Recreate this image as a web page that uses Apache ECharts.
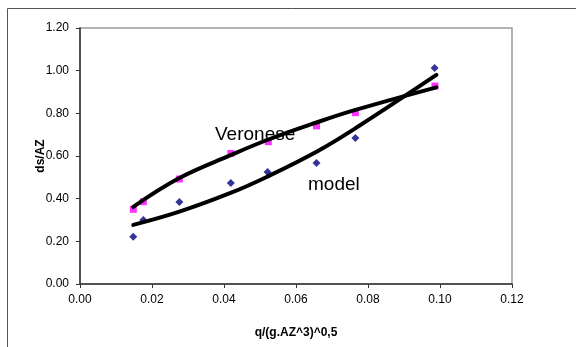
<!DOCTYPE html>
<html><head><meta charset="utf-8">
<script src="https://cdn.jsdelivr.net/npm/echarts@6/dist/echarts.min.js"></script>
<style>html,body{margin:0;padding:0;background:#fff}#c{width:576px;height:347px}</style>
</head><body><div id="c"></div>
<script>
const xTicks = [0, 0.02, 0.04, 0.06, 0.08, 0.10, 0.12];
const yTicks = [0, 0.2, 0.4, 0.6, 0.8, 1.0, 1.2];
const xVeronese = [0.0148, 0.0176, 0.0276, 0.0419, 0.0523, 0.0657, 0.0765, 0.0986];
const yVeronese = [0.350, 0.386, 0.492, 0.612, 0.667, 0.741, 0.803, 0.928];
const xModel = [0.0148, 0.0176, 0.0276, 0.0419, 0.0521, 0.0657, 0.0765, 0.0985];
const yModel = [0.222, 0.300, 0.384, 0.473, 0.525, 0.567, 0.684, 1.012];
const xTrendV = [0.0148, 0.0276, 0.042, 0.052, 0.0657, 0.0765, 0.099];
const yTrendV = [0.362, 0.497, 0.605, 0.675, 0.757, 0.816, 0.922];
const xTrendM = [0.0148, 0.0276, 0.042, 0.052, 0.0657, 0.0765, 0.099];
const yTrendM = [0.277, 0.339, 0.428, 0.503, 0.620, 0.730, 0.980];

const zip = (a, b) => a.map((v, i) => [v, b[i]]);
const chart = echarts.init(document.getElementById('c'));
const font = 'Liberation Sans, Arial, sans-serif';
chart.setOption({
  animation: false,
  grid: {left: 80, top: 28, width: 432, height: 256, show: true, borderColor: '#9a9a9a', borderWidth: 1.5, backgroundColor: 'transparent'},
  xAxis: {
    type: 'value', min: 0, max: 0.12, interval: 0.02,
    name: 'q/(g.AZ^3)^0,5', nameLocation: 'middle', nameGap: 43,
    nameTextStyle: {fontFamily: font, fontWeight: 'bold', fontSize: 12, color: '#000'},
    axisLine: {lineStyle: {color: '#333', width: 1.5}},
    axisTick: {show: true, inside: false, length: 4, lineStyle: {color: '#333'}},
    splitLine: {show: false},
    axisLabel: {fontFamily: font, fontSize: 12, color: '#000', margin: 10, formatter: v => v.toFixed(2)}
  },
  yAxis: {
    type: 'value', min: 0, max: 1.2, interval: 0.2,
    name: 'ds/AZ', nameLocation: 'middle', nameGap: 33, nameRotate: 90, nameMoveOverlap: false,
    nameTextStyle: {fontFamily: font, fontWeight: 'bold', fontSize: 12, color: '#000'},
    axisLine: {show: true, lineStyle: {color: '#333', width: 1.5}},
    axisTick: {show: true, inside: false, length: 4, lineStyle: {color: '#333'}},
    splitLine: {show: false},
    axisLabel: {fontFamily: font, fontSize: 12, color: '#000', margin: 11, formatter: v => v.toFixed(2)}
  },
  graphic: [
    {type: 'rect', shape: {x: 7.5, y: 8.5, width: 700, height: 500}, style: {fill: 'none', stroke: '#555', lineWidth: 1}, z: -10},
    {type: 'text', left: 215, top: 125, style: {text: 'Veronese', font: '19px ' + font, fill: '#000'}, z: 1},
    {type: 'text', left: 308, top: 175, style: {text: 'model', font: '19px ' + font, fill: '#000'}, z: 1}
  ],
  series: [
    {type: 'scatter', data: zip(xVeronese, yVeronese), symbol: 'rect', symbolSize: 7, itemStyle: {color: '#FF00FF'}, z: 2},
    {type: 'scatter', data: zip(xModel, yModel), symbol: 'diamond', symbolSize: 8, itemStyle: {color: '#000080'}, z: 3},
    {type: 'line', data: zip(xTrendV, yTrendV), smooth: 0.4, showSymbol: false, lineStyle: {color: '#000', width: 4, cap: 'round'}, z: 4},
    {type: 'line', data: zip(xTrendM, yTrendM), smooth: 0.4, showSymbol: false, lineStyle: {color: '#000', width: 4, cap: 'round'}, z: 4}
  ]
});
</script></body></html>
